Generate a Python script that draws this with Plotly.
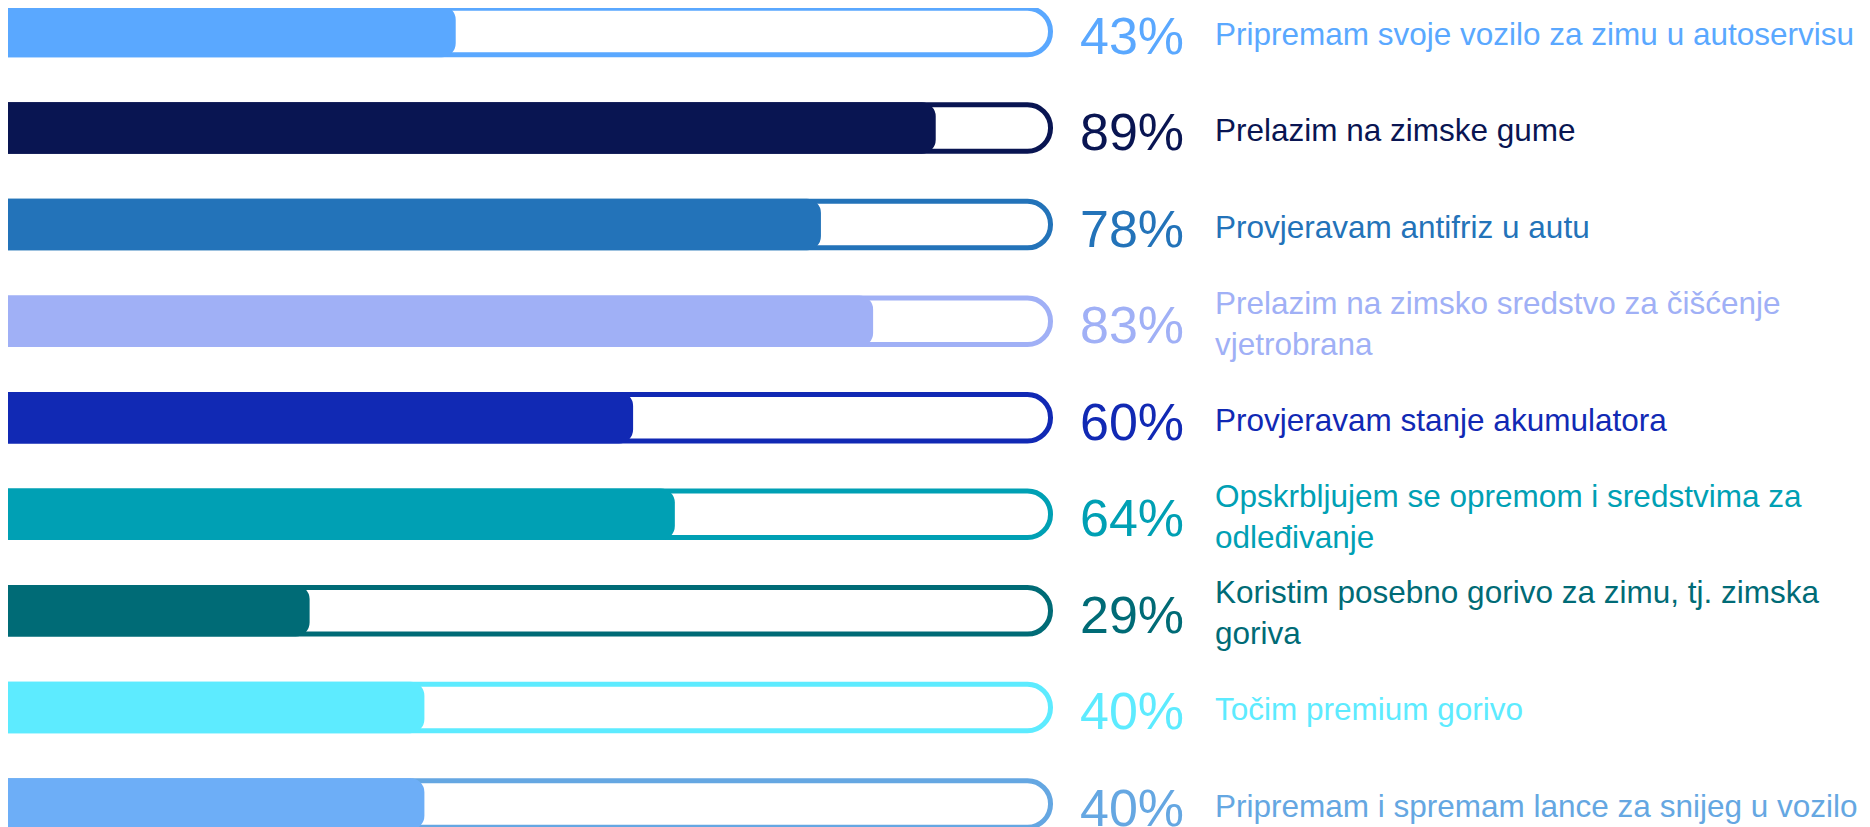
import plotly.graph_objects as go

labels = [
    "Pripremam svoje vozilo za zimu u autoservisu",
    "Prelazim na zimske gume",
    "Provjeravam antifriz u autu",
    "Prelazim na zimsko sredstvo za čišćenje<br>vjetrobrana",
    "Provjeravam stanje akumulatora",
    "Opskrbljujem se opremom i sredstvima za<br>odleđivanje",
    "Koristim posebno gorivo za zimu, tj. zimska<br>goriva",
    "Točim premium gorivo",
    "Pripremam i spremam lance za snijeg u vozilo",
]
values = [43, 89, 78, 83, 60, 64, 29, 40, 40]
fill_colors = ["#5AA8FF", "#091552", "#2373B9", "#A0B0F6", "#1129B4",
               "#00A0B4", "#006B76", "#5DEBFF", "#6DAEF7"]
line_colors = ["#5AA8FF", "#091552", "#2373B9", "#A0B0F6", "#1129B4",
               "#00A0B4", "#006B76", "#5DEBFF", "#65A7E2"]

# page is rendered with the browser's default 8px body margin
OFF = 8
VW, VH = 1870, 827
W, H = VW - OFF, VH - OFF
n = len(values)
pos = list(range(n))

# pixel geometry helpers (layout only), in page pixels
zero_px = 7
full_px = 1050.5
ppu = (full_px - zero_px) / 100.0
row_px = 96.56
row0_px = 31.5


def xdata(page_px):
    return (page_px - zero_px) / ppu


x_min = xdata(OFF)
x_max = xdata(VW)
y_top = -(row0_px - OFF) / row_px
y_bot = y_top + H / row_px

pad = 10  # bars start left of the axis so their left corners are clipped

fig = go.Figure()
fig.add_trace(go.Bar(
    y=pos, x=[100 + pad] * n, base=[-pad] * n, orientation="h",
    width=46.5 / row_px,
    marker=dict(color="white", line=dict(color=line_colors, width=5), cornerradius=23),
    hoverinfo="skip", showlegend=False,
))
fig.add_trace(go.Bar(
    y=pos, x=[v + pad for v in values], base=[-pad] * n, orientation="h",
    width=51.5 / row_px,
    marker=dict(color=fill_colors, line=dict(width=0), cornerradius=14),
    hoverinfo="skip", showlegend=False,
))

for i, (v, lab, c) in enumerate(zip(values, labels, line_colors)):
    fig.add_annotation(x=xdata(1078), y=i, yshift=-4, text=f"{v}%", showarrow=False,
                       xanchor="left", yanchor="middle",
                       font=dict(family="Liberation Sans, Arial", size=52, color=c))
    fig.add_annotation(x=xdata(1213), y=i, yshift=-2, text=lab, showarrow=False,
                       xanchor="left", yanchor="middle", align="left",
                       font=dict(family="Liberation Sans, Arial", size=31.5, color=c))

fig.update_layout(
    width=W, height=H, barmode="overlay",
    margin=dict(l=0, r=0, t=0, b=0),
    paper_bgcolor="white", plot_bgcolor="white",
    xaxis=dict(range=[x_min, x_max], visible=False, fixedrange=True),
    yaxis=dict(range=[y_bot, y_top], visible=False, fixedrange=True),
)

fig.write_html("out.html", config={"displayModeBar": False})
